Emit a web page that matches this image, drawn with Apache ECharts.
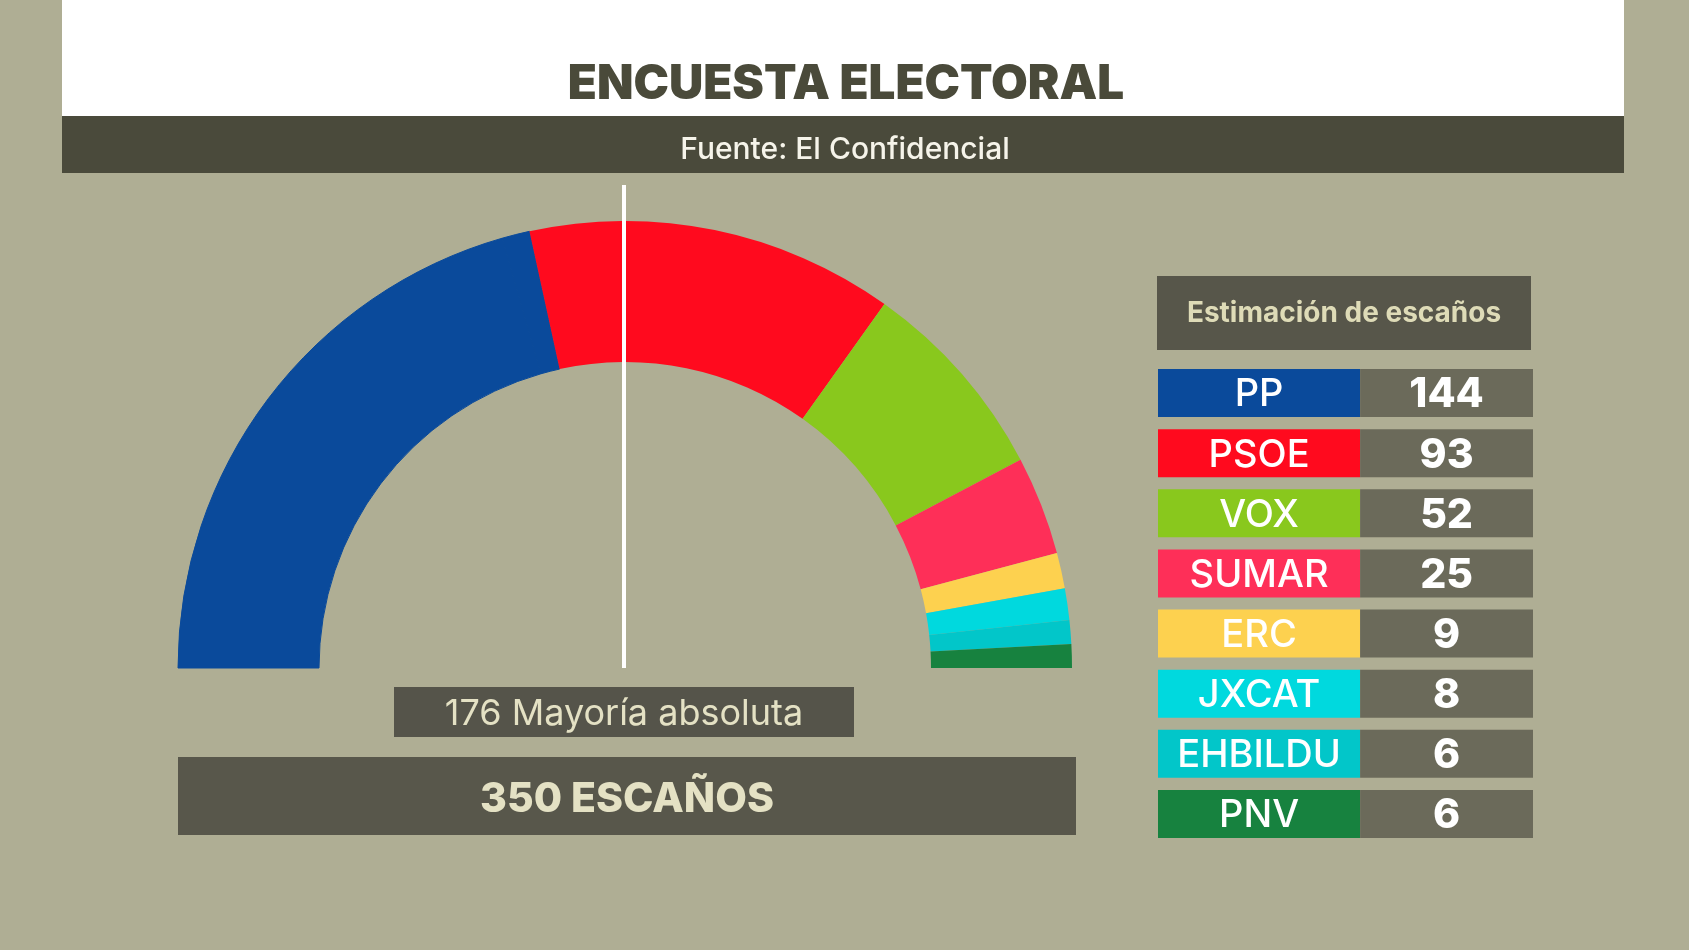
<!DOCTYPE html>
<html><head><meta charset="utf-8">
<script src="https://cdn.jsdelivr.net/npm/echarts@6/dist/echarts.min.js"></script>
<style>html,body{margin:0;padding:0;background:#afae94;}#c{width:1689px;height:950px;}</style>
</head><body><div id="c"></div>
<script>
const parties = ['PP','PSOE','VOX','SUMAR','ERC','JXCAT','EHBILDU','PNV'];
const seats = [144,93,52,25,9,8,6,6];
const colors = ['#0a4a9b','#ff0a1e','#89c81d','#fe2f58','#fdd14f','#00d9de','#02c6c9','#17823f'];
const totalSeats = 350;
const majority = 176;
const titleText = 'ENCUESTA ELECTORAL';
const sourceText = 'Fuente: El Confidencial';
const tableTitle = 'Estimación de escaños';
const seatsLabel = 'ESCAÑOS';
const majorityLabel = 'Mayoría absoluta';

const FONT = 'Inter, "Noto Sans", sans-serif';
const cx = 625, cy = 668, rIn = 306, rOut = 447;

const shown = seats.reduce((a, b) => a + b, 0);
const others = totalSeats - shown;
const pieData = [];
parties.forEach((p, i) => {
  const st = { color: colors[i] };
  if (i === 0) { st.borderColor = colors[0]; st.borderWidth = 1; }
  pieData.push({ name: p, value: seats[i], itemStyle: st });
  if (i === 0 && others > 0) pieData.push({ name: 'Otros', value: others, itemStyle: { color: colors[0], borderColor: colors[0], borderWidth: 1 } });
});
pieData.push({ name: '', value: totalSeats, itemStyle: { color: 'rgba(0,0,0,0)' } });

const chart = echarts.init(document.getElementById('c'), null, { renderer: 'canvas' });
chart.setOption({
  backgroundColor: '#afae94',
  animation: false,
  grid: { left: 1158, width: 375, top: 363, height: 481 },
  xAxis: { type: 'value', min: 0, max: 1, show: false },
  yAxis: { type: 'category', data: parties, inverse: true, show: false },
  graphic: [
    { type: 'rect', shape: { x: 62, y: 0, width: 1562, height: 116 }, style: { fill: '#ffffff' }, z: 1 },
    { type: 'rect', shape: { x: 62, y: 116, width: 1562, height: 57 }, style: { fill: '#4a4a3b' }, z: 1 },
    { type: 'text', x: 846, y: 85, style: { text: titleText, fill: '#4a4a3a', font: '900 47.5px ' + FONT, textAlign: 'center', textVerticalAlign: 'middle' }, z: 2 },
    { type: 'text', x: 845, y: 150, style: { text: sourceText, fill: '#f6f4ea', font: '500 30px ' + FONT, textAlign: 'center', textVerticalAlign: 'middle' }, z: 2 },
    { type: 'line', shape: { x1: cx - 1, y1: 185, x2: cx - 1, y2: cy }, style: { stroke: '#ffffff', lineWidth: 4 }, z: 10 },
    { type: 'rect', shape: { x: 394, y: 687, width: 460, height: 50 }, style: { fill: '#55544a' }, z: 1 },
    { type: 'text', x: 624, y: 714, style: { text: majority + ' ' + majorityLabel, fill: '#e4e1c4', font: '400 36px ' + FONT, textAlign: 'center', textVerticalAlign: 'middle' }, z: 2 },
    { type: 'rect', shape: { x: 178, y: 757, width: 898, height: 78 }, style: { fill: '#58574b' }, z: 1 },
    { type: 'text', x: 627, y: 800, style: { text: totalSeats + ' ' + seatsLabel, fill: '#e4e1c4', font: '800 41px ' + FONT, textAlign: 'center', textVerticalAlign: 'middle' }, z: 2 },
    { type: 'rect', shape: { x: 1157, y: 276, width: 374, height: 74 }, style: { fill: '#57564a' }, z: 1 },
    { type: 'text', x: 1344, y: 314, style: { text: tableTitle, fill: '#dedbb7', font: '700 28px ' + FONT, textAlign: 'center', textVerticalAlign: 'middle' }, z: 2 }
  ],
  series: [
    {
      type: 'pie',
      center: [cx, cy],
      radius: [rIn, rOut],
      startAngle: 180,
      clockwise: true,
      silent: true,
      label: { show: false },
      labelLine: { show: false },
      emphasis: { disabled: true },
      itemStyle: { borderWidth: 0 },
      data: pieData
    },
    {
      type: 'custom',
      coordinateSystem: 'cartesian2d',
      silent: true,
      data: parties.map((p, i) => [0, i, seats[i]]),
      encode: { x: 0, y: 1 },
      renderItem: function (params, api) {
        const idx = api.value(1);
        const p0 = api.coord([0, idx]);
        const p1 = api.coord([1, idx]);
        const band = api.size([0, 1])[1];
        const h = band * 0.8;
        const w = p1[0] - p0[0];
        const wl = w * 0.539;
        const top = p0[1] - h / 2;
        return {
          type: 'group',
          children: [
            { type: 'rect', shape: { x: p0[0], y: top, width: wl, height: h }, style: { fill: colors[idx] } },
            { type: 'rect', shape: { x: p0[0] + wl, y: top, width: w - wl, height: h }, style: { fill: '#6b6a5a' } },
            { type: 'text', x: p0[0] + wl / 2, y: p0[1] + 2, style: { text: parties[idx], fill: '#ffffff', font: '500 38px ' + FONT, textAlign: 'center', textVerticalAlign: 'middle' } },
            { type: 'text', x: p0[0] + wl + (w - wl) / 2, y: p0[1] + 2, style: { text: String(api.value(2)), fill: '#ffffff', font: '800 41px ' + FONT, textAlign: 'center', textVerticalAlign: 'middle' } }
          ]
        };
      }
    }
  ]
});
</script></body></html>
